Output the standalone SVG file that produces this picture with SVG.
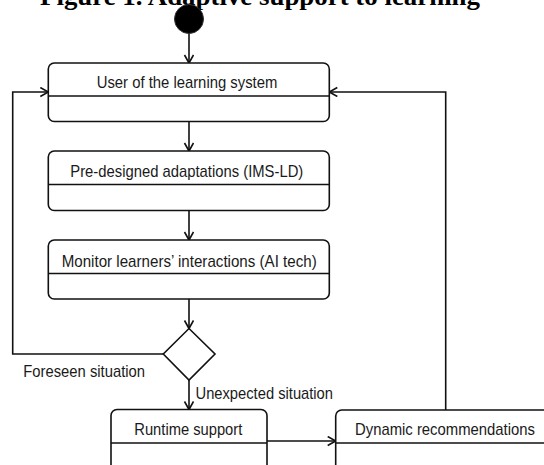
<svg xmlns="http://www.w3.org/2000/svg" width="544" height="465" viewBox="0 0 544 465">
<defs>
<style>
.box{fill:#fff;stroke:#111;stroke-width:1.6}
.div{stroke:#111;stroke-width:1.6;fill:none}
.lbl{font-family:"Liberation Sans",Arial,sans-serif;font-size:17px;fill:#1a1a1a}
.c{text-anchor:middle}
.edge{fill:none;stroke:#111;stroke-width:1.6}
.title{font-family:"Liberation Serif","Times New Roman",serif;font-weight:bold;font-size:26px;fill:#000}
</style>
<marker id="arr" markerWidth="12" markerHeight="12" refX="9" refY="5" orient="auto" markerUnits="userSpaceOnUse">
<path d="M1,0.5 L9,5 L1,9.5" fill="none" stroke="#111" stroke-width="1.6"/>
</marker>
</defs>
<rect width="544" height="465" fill="#fff"/>
<text class="title" x="40" y="5" textLength="440" lengthAdjust="spacingAndGlyphs">Figure 1. Adaptive support to learning</text>

<g id="connectors">
<line class="edge" x1="189" y1="33" x2="189" y2="63" marker-end="url(#arr)"/>
<line class="edge" x1="189" y1="121.5" x2="189" y2="151" marker-end="url(#arr)"/>
<line class="edge" x1="189" y1="210.5" x2="189" y2="240" marker-end="url(#arr)"/>
<line class="edge" x1="189" y1="299" x2="189" y2="328.5" marker-end="url(#arr)"/>
<line class="edge" x1="189" y1="380" x2="189" y2="409.5" marker-end="url(#arr)"/>
<polyline class="edge" points="163,354 12.7,354 12.7,92 48.3,92" marker-end="url(#arr)"/>
<polyline class="edge" points="445.7,410 445.7,92 329.3,92" marker-end="url(#arr)"/>
<line class="edge" x1="267" y1="441" x2="335.7" y2="441" marker-end="url(#arr)"/>
<text class="lbl" x="23.3" y="377.3" textLength="121.7" lengthAdjust="spacingAndGlyphs">Foreseen situation</text>
<text class="lbl" x="195.5" y="399" textLength="137.5" lengthAdjust="spacingAndGlyphs">Unexpected situation</text>
</g>

<g id="start">
<circle cx="189" cy="19" r="14.5" fill="#000" stroke="#333" stroke-width="1"/>
</g>

<g id="user">
<rect class="box" x="48.3" y="63" width="281" height="58.5" rx="6"/>
<line class="div" x1="48.3" y1="96" x2="329.3" y2="96"/>
<text class="lbl c" x="187" y="87.5" textLength="180.6" lengthAdjust="spacingAndGlyphs">User of the learning system</text>
</g>

<g id="predesigned">
<rect class="box" x="48.3" y="151" width="281" height="59.5" rx="6"/>
<line class="div" x1="48.3" y1="184.5" x2="329.3" y2="184.5"/>
<text class="lbl c" x="186.8" y="176.8" textLength="233" lengthAdjust="spacingAndGlyphs">Pre-designed adaptations (IMS-LD)</text>
</g>

<g id="monitor">
<rect class="box" x="48.3" y="240" width="281" height="59" rx="6"/>
<line class="div" x1="48.3" y1="273.5" x2="329.3" y2="273.5"/>
<text class="lbl c" x="189.2" y="266.7" textLength="255" lengthAdjust="spacingAndGlyphs">Monitor learners’ interactions (AI tech)</text>
</g>

<g id="decision">
<polygon points="189,328.5 215,354 189,380 163.3,354" fill="#fff" stroke="#111" stroke-width="1.6"/>
</g>

<g id="runtime">
<rect class="box" x="111" y="409.5" width="156" height="70" rx="6"/>
<line class="div" x1="111" y1="443" x2="267" y2="443"/>
<text class="lbl c" x="188.3" y="435" textLength="108" lengthAdjust="spacingAndGlyphs">Runtime support</text>
</g>

<g id="dynamic">
<rect class="box" x="335.7" y="410" width="230" height="70" rx="6"/>
<line class="div" x1="335.7" y1="443" x2="565" y2="443"/>
<text class="lbl c" x="445" y="435" textLength="180" lengthAdjust="spacingAndGlyphs">Dynamic recommendations</text>
</g>
</svg>
